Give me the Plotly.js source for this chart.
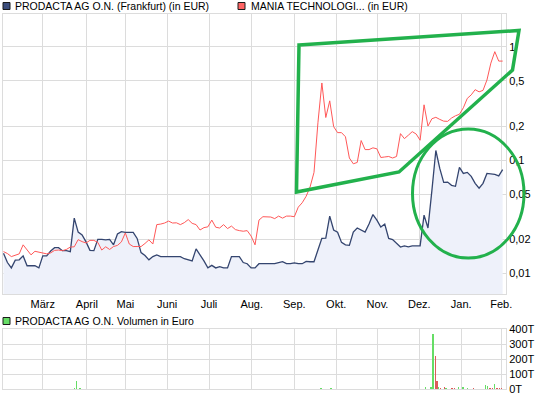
<!DOCTYPE html>
<html><head><meta charset="utf-8">
<script src="https://cdn.plot.ly/plotly-3.0.1.min.js"></script>
<style>html,body{margin:0;padding:0;background:#fff}#chart{width:545px;height:398px}</style>
</head><body><div id="chart"></div>
<script>
// Month labels and the trading-day index where each month starts
const monthLabels = ['März','April','Mai','Juni','Juli','Aug.','Sep.','Okt.','Nov.','Dez.','Jan.','Feb.'];
const monthStartDay = [20.0,42.4,62.0,83.3,104.6,126.3,148.0,169.3,190.3,211.6,232.9,253.3];

// Prices in EUR, one value every second trading day
const prodactaPrice = [0.0151,0.0125,0.0112,0.0131,0.0132,0.0143,0.0117,0.0117,0.0117,0.0112,
 0.0143,0.0143,0.0158,0.0169,0.0169,0.0159,0.0159,0.0156,0.0308,0.0232,
 0.0219,0.0190,0.0160,0.0159,0.0200,0.0200,0.0198,0.0200,0.0179,0.0223,
 0.0234,0.0231,0.0231,0.0231,0.0204,0.0153,0.0144,0.0132,0.0141,0.0146,
 0.0141,0.0141,0.0141,0.0141,0.0141,0.0141,0.0135,0.0132,0.0129,0.0165,
 0.0147,0.0129,0.0112,0.0118,0.0112,0.0115,0.0112,0.0112,0.0141,0.0141,
 0.0141,0.0125,0.0122,0.0112,0.0112,0.0122,0.0122,0.0122,0.0122,0.0122,
 0.0125,0.0127,0.0122,0.0122,0.0124,0.0122,0.0122,0.0128,0.0127,0.0127,
 0.0161,0.0204,0.0205,0.0321,0.0242,0.0231,0.0188,0.0179,0.0177,0.0232,
 0.0252,0.0242,0.0232,0.0273,0.0331,0.0296,0.0257,0.0273,0.0204,0.0199,
 0.0186,0.0171,0.0175,0.0172,0.0175,0.0175,0.0175,0.0327,0.0252,0.0542,
 0.1217,0.0846,0.0637,0.0641,0.0600,0.0588,0.0863,0.0764,0.0780,0.0719,
 0.0625,0.0565,0.0625,0.0764,0.0757,0.0749,0.0727,0.0824];

const maniaPrice = [0.0156,0.0150,0.0141,0.0146,0.0149,0.0179,0.0160,0.0146,0.0157,0.0155,
 0.0152,0.0149,0.0152,0.0160,0.0161,0.0159,0.0163,0.0171,0.0172,0.0199,
 0.0191,0.0186,0.0196,0.0196,0.0188,0.0161,0.0172,0.0163,0.0173,0.0177,
 0.0190,0.0228,0.0182,0.0173,0.0173,0.0173,0.0184,0.0198,0.0182,0.0270,
 0.0273,0.0279,0.0290,0.0279,0.0280,0.0270,0.0281,0.0299,0.0277,0.0270,
 0.0242,0.0254,0.0258,0.0296,0.0256,0.0252,0.0270,0.0249,0.0262,0.0244,
 0.0239,0.0236,0.0239,0.0214,0.0179,0.0296,0.0317,0.0317,0.0315,0.0305,
 0.0321,0.0308,0.0321,0.0321,0.0317,0.0385,0.0421,0.0480,0.0580,0.0780,
 0.214,0.480,0.238,0.334,0.1975,0.175,0.175,0.161,0.1045,0.0929,
 0.0955,0.149,0.124,0.124,0.1285,0.126,0.1056,0.1067,0.1078,0.1045,
 0.1078,0.1715,0.155,0.166,0.1786,0.170,0.150,0.308,0.200,0.232,
 0.239,0.229,0.221,0.220,0.2355,0.2466,0.254,0.290,0.351,0.377,
 0.419,0.401,0.413,0.51,0.719,0.907,0.749,0.749];

// Volume in thousand EUR (T)
const prodactaVolDay = [36.0,37.3,39.0,73.2,161.6,166.7,214.8,217.5,218.6,221.5,225.2,231.4,233.9,236.0,245.4,246.4,250.0];
const prodactaVol    = [5,53,5,3,8,8,15,15,368,15,9,15,15,9,27,22,33];
const maniaVolDay = [219.7,220.6,222.3,224.3,228.2,229.4,239.1,247.6,248.8,251.1,252.3,253.3];
const maniaVol    = [221,53,9,15,9,9,9,9,9,9,9,9];

const priceTicks = [0.01,0.02,0.05,0.1,0.2,0.5,1];
const priceTickText = ['0,01','0,02','0,05','0,1','0,2','0,5','1'];
const volTicks = [0,100,200,300,400];
const volTickText = ['0T','100T','200T','300T','400T'];

const legendTop1 = 'PRODACTA AG O.N. (Frankfurt) (in EUR)';
const legendTop2 = 'MANIA TECHNOLOGI... (in EUR)';
const legendBottom = 'PRODACTA AG O.N. Volumen in Euro';

// page geometry (pixels) -> paper coords for decorations
const W = 545, H = 398, ML = 3, MR = 39, MT = 14, MB = 9;
const PW = W - ML - MR, PH = H - MT - MB;
const px = x => (x - ML) / PW;
const py = y => (H - MB - y) / PH;

const gridC = '#dcdcdc';
const FONT = 'Liberation Sans, Arial, sans-serif';

const traces = [
  {type:'scatter', mode:'lines', y:prodactaPrice, x0:0, dx:2, xaxis:'x', yaxis:'y',
   line:{color:'#34456f', width:1.3}, fill:'tozeroy', fillcolor:'#eef1fa', hoverinfo:'skip'},
  {type:'scatter', mode:'lines', y:maniaPrice, x0:0, dx:2, xaxis:'x', yaxis:'y',
   line:{color:'#ff5858', width:1}, hoverinfo:'skip'},
  {type:'bar', x:prodactaVolDay, y:prodactaVol, xaxis:'x2', yaxis:'y2', width:0.7,
   marker:{color:'#66dd66', line:{width:0}}},
  {type:'bar', x:maniaVolDay, y:maniaVol, xaxis:'x2', yaxis:'y2', width:0.7,
   marker:{color:'#dd5a5a', line:{width:0}}}
];

const xRange = [-0.25, 255.7];
const commonX = {range:xRange, tickvals:monthStartDay, showgrid:true, gridcolor:gridC, gridwidth:1,
  zeroline:false, showline:true, linecolor:gridC, linewidth:1, mirror:true, ticks:'', fixedrange:true};

const polygon = [[299,45],[519,30.5],[512.5,70],[399,172],[296.5,192]];
const polyPath = 'M ' + polygon.map(p => px(p[0]).toFixed(5) + ' ' + py(p[1]).toFixed(5)).join(' L ') + ' Z';

const layout = {
  width:W, height:H, margin:{l:ML, r:MR, t:MT, b:MB, pad:0},
  paper_bgcolor:'#ffffff', plot_bgcolor:'#ffffff', showlegend:false, bargap:0,
  barmode:'overlay',
  font:{family:FONT, size:11, color:'#000'},
  xaxis: Object.assign({}, commonX, {domain:[0,1], anchor:'y', ticktext:monthLabels,
    tickfont:{family:FONT, size:11, color:'#000'}}),
  yaxis:{domain:[(H-MB-294)/PH, 1], type:'log', range:[-2.181, 0.290], side:'right', anchor:'x',
    tickvals:priceTicks, ticktext:priceTickText, showgrid:true, gridcolor:gridC, zeroline:false,
    showline:true, linecolor:gridC, mirror:true, ticks:'', fixedrange:true,
    tickfont:{family:FONT, size:11, color:'#000'}},
  xaxis2: Object.assign({}, commonX, {domain:[0,1], anchor:'y2', showticklabels:false}),
  yaxis2:{domain:[0, (H-MB-329.3)/PH], range:[0,400], side:'right', anchor:'x2',
    tickvals:volTicks, ticktext:volTickText, showgrid:true, gridcolor:gridC, zeroline:false,
    showline:true, linecolor:gridC, mirror:true, ticks:'', fixedrange:true,
    tickfont:{family:FONT, size:11, color:'#000'}},
  shapes:[
    {type:'rect', xref:'paper', yref:'paper', x0:px(3), x1:px(10), y0:py(9.5), y1:py(2.5),
     fillcolor:'#3b4d7c', line:{color:'#1a1a1a', width:1}},
    {type:'rect', xref:'paper', yref:'paper', x0:px(238), x1:px(245), y0:py(9.5), y1:py(2.5),
     fillcolor:'#ff6464', line:{color:'#1a1a1a', width:1}},
    {type:'rect', xref:'paper', yref:'paper', x0:px(3), x1:px(10), y0:py(324.5), y1:py(317.5),
     fillcolor:'#66dd66', line:{color:'#1a1a1a', width:1}},
    {type:'path', xref:'paper', yref:'paper', path:polyPath, line:{color:'#22b14c', width:3.5}},
    {type:'circle', xref:'paper', yref:'paper', x0:px(412.5), x1:px(524), y0:py(258), y1:py(129),
     line:{color:'#22b14c', width:3}}
  ],
  annotations:[
    {xref:'paper', yref:'paper', x:px(13), y:py(6), xanchor:'left', yanchor:'middle', showarrow:false,
     text:legendTop1, font:{family:FONT, size:10.5, color:'#000'}},
    {xref:'paper', yref:'paper', x:px(249), y:py(6), xanchor:'left', yanchor:'middle', showarrow:false,
     text:legendTop2, font:{family:FONT, size:10.5, color:'#000'}},
    {xref:'paper', yref:'paper', x:px(13), y:py(321), xanchor:'left', yanchor:'middle', showarrow:false,
     text:legendBottom, font:{family:FONT, size:10.5, color:'#000'}}
  ]
};

Plotly.newPlot('chart', traces, layout, {staticPlot:true, displayModeBar:false});
</script>
</body></html>
